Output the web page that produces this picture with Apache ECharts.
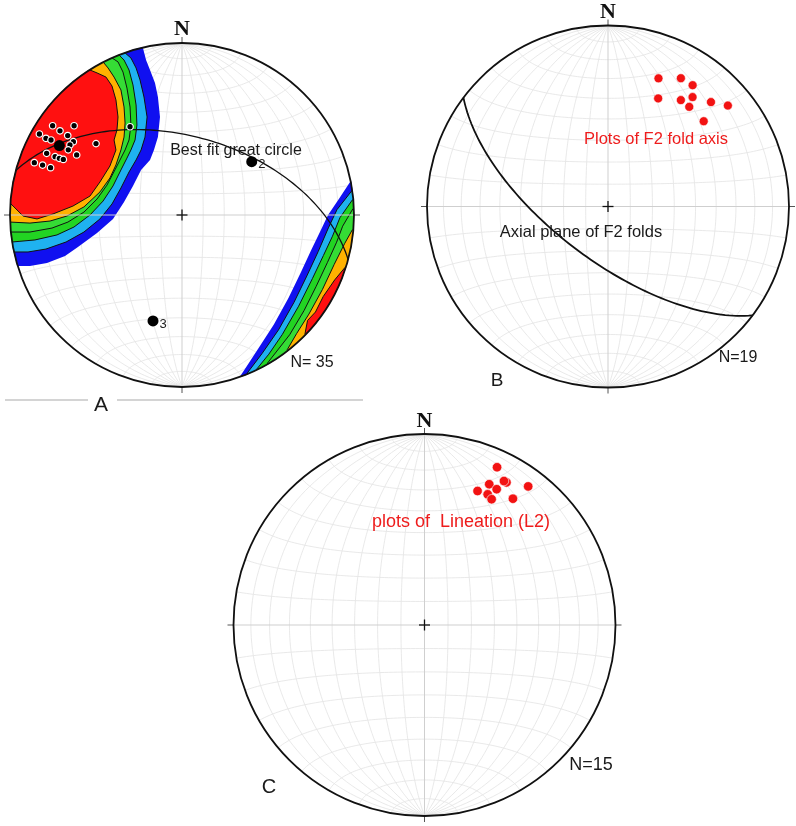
<!DOCTYPE html>
<html>
<head>
<meta charset="utf-8">
<script src="https://cdn.jsdelivr.net/npm/echarts@6/dist/echarts.min.js"></script>
<style>
  html, body { margin: 0; padding: 0; background: #fff; }
  #chart { width: 796px; height: 826px; }
</style>
</head>
<body>
<div id="chart"></div>
<script>
// ---- data: [trend, plunge] in degrees, lower hemisphere, equal-area net ----
// A: poles (N = 35), eigenvectors 1..3, best fit great circle
const polesA = [
  [304.6, 9.5], [309.6, 19.7], [299.6, 5.2], [304.6, 14.9], [304.8, 20.2],
  [299.4, 10.1], [299.8, 13.3], [304.0, 24.8], [302.0, 24.2], [309.7, 35.3],
  [299.8, 24.8], [299.7, 30.2], [294.5, 14.6], [294.7, 19.9], [294.8, 22.5],
  [295.1, 24.8], [289.5, 9.8], [289.7, 15.0], [289.8, 19.9], [329.5, 40.2]
]
const eigenA = [[299.5, 19.2], [52.6, 47.7], [195.3, 36.3]]
const eigenLabelsA = ['', '2', '3']
const bestFitA = [15, 52]        // dip direction, dip
// B: F2 fold axes (N = 19) and axial plane
const foldAxesB = [
  [21.5, 24.9], [29.6, 19.6], [34.9, 19.4], [24.9, 34.5], [34.4, 29.5],
  [37.7, 24.6], [39.2, 29.7], [44.6, 20.1], [49.9, 14.5], [48.3, 29.9]
]
const axialPlaneB = [217, 66]
// C: L2 lineations (N = 15)
const lineationC = [
  [24.7, 10.0], [24.7, 20.0], [29.9, 15.0], [28.9, 15.0], [28.0, 20.6],
  [21.6, 25.5], [25.8, 25.0], [28.1, 26.3], [35.0, 20.4], [36.8, 10.3]
]
const counts = ['N= 35', 'N=19', 'N=15']
const netAngles = [10, 20, 30, 40, 50, 60, 70, 80]

// contour outlines of A in net coordinates (x east, y north, primitive = 1)
const contourColors = ['#1010f0', '#1fb2f0', '#22d422', '#35dc35', '#ffb200', '#ff1010']
const contourNW = [
  [[-0.215,1.029],[-0.227,0.971],[-0.209,0.901],[-0.186,0.843],[-0.157,0.767],[-0.140,0.686],[-0.128,0.570],[-0.140,0.453],[-0.163,0.378],[-0.186,0.320],[-0.238,0.262],[-0.285,0.169],[-0.337,0.076],[-0.401,-0.023],[-0.494,-0.105],[-0.605,-0.186],[-0.680,-0.238],[-0.785,-0.279],[-0.884,-0.297],[-0.953,-0.297],[-1.012,-0.308]],
  [[-0.320,1.006],[-0.331,0.942],[-0.297,0.913],[-0.267,0.855],[-0.244,0.785],[-0.221,0.686],[-0.203,0.570],[-0.215,0.453],[-0.238,0.378],[-0.267,0.320],[-0.308,0.250],[-0.355,0.157],[-0.407,0.064],[-0.477,-0.023],[-0.570,-0.099],[-0.674,-0.157],[-0.791,-0.198],[-0.895,-0.215],[-0.977,-0.215],[-1.035,-0.227]],
  [[-0.372,0.983],[-0.366,0.930],[-0.337,0.901],[-0.308,0.843],[-0.285,0.756],[-0.267,0.640],[-0.262,0.523],[-0.273,0.436],[-0.297,0.378],[-0.320,0.331],[-0.355,0.262],[-0.401,0.169],[-0.459,0.081],[-0.535,0.000],[-0.628,-0.070],[-0.727,-0.116],[-0.855,-0.145],[-0.988,-0.157],[-1.047,-0.163]],
  [[-0.419,0.959],[-0.407,0.913],[-0.372,0.890],[-0.343,0.831],[-0.320,0.738],[-0.302,0.628],[-0.297,0.523],[-0.308,0.436],[-0.331,0.378],[-0.355,0.331],[-0.390,0.262],[-0.436,0.174],[-0.494,0.093],[-0.570,0.017],[-0.663,-0.041],[-0.756,-0.076],[-0.884,-0.099],[-0.994,-0.099],[-1.052,-0.105]],
  [[-0.471,0.930],[-0.459,0.890],[-0.430,0.855],[-0.395,0.802],[-0.355,0.727],[-0.337,0.628],[-0.331,0.535],[-0.337,0.453],[-0.355,0.378],[-0.384,0.291],[-0.419,0.215],[-0.477,0.134],[-0.570,0.047],[-0.669,-0.006],[-0.767,-0.035],[-0.884,-0.047],[-1.000,-0.041],[-1.058,-0.041]],
  [[-0.552,0.890],[-0.535,0.843],[-0.494,0.826],[-0.442,0.802],[-0.407,0.750],[-0.384,0.669],[-0.372,0.570],[-0.378,0.494],[-0.395,0.436],[-0.384,0.378],[-0.419,0.285],[-0.477,0.192],[-0.535,0.110],[-0.634,0.052],[-0.750,0.006],[-0.843,-0.023],[-0.924,-0.006],[-0.959,0.029],[-0.994,0.064],[-1.052,0.070]]
]
const contourSE = [
  [[1.035,0.220],[0.976,0.190],[0.914,0.096],[0.849,0.000],[0.802,-0.099],[0.752,-0.202],[0.690,-0.336],[0.619,-0.483],[0.534,-0.637],[0.455,-0.758],[0.385,-0.866],[0.340,-0.934],[0.345,-1.000]],
  [[1.045,0.166],[0.985,0.138],[0.901,0.031],[0.851,-0.075],[0.792,-0.212],[0.726,-0.354],[0.651,-0.508],[0.561,-0.668],[0.465,-0.806],[0.380,-0.918],[0.396,-0.981]],
  [[1.052,0.111],[0.990,0.087],[0.918,-0.016],[0.875,-0.123],[0.822,-0.236],[0.758,-0.370],[0.678,-0.530],[0.583,-0.695],[0.505,-0.809],[0.436,-0.894],[0.447,-0.959]],
  [[1.057,0.055],[0.993,0.035],[0.934,-0.065],[0.899,-0.158],[0.846,-0.275],[0.780,-0.415],[0.710,-0.555],[0.626,-0.696],[0.497,-0.861],[0.513,-0.925]],
  [[1.056,-0.074],[0.990,-0.087],[0.945,-0.167],[0.885,-0.287],[0.816,-0.434],[0.738,-0.576],[0.666,-0.690],[0.612,-0.783],[0.637,-0.845]],
  [[1.012,-0.309],[0.946,-0.307],[0.888,-0.377],[0.821,-0.474],[0.776,-0.564],[0.730,-0.613],[0.715,-0.691],[0.748,-0.748]]
]

// ---- projection helpers ----
const D2R = Math.PI / 180
function dirVec(trend, plunge) {
  const t = trend * D2R, p = plunge * D2R
  return [Math.cos(p) * Math.cos(t), Math.cos(p) * Math.sin(t), Math.sin(p)]  // N, E, Down
}
function project(v) {
  let n = v[0], e = v[1], d = v[2]
  if (d < 0) { n = -n; e = -e; d = -d }
  const k = 1 / Math.sqrt(1 + d)
  return [e * k, n * k]
}
function pointXY(tp) { return project(dirVec(tp[0], tp[1])) }
function planeCurve(dipDir, dip) {
  const s = dirVec(dipDir - 90, 0), d = dirVec(dipDir, dip)
  const pts = []
  for (let a = 0; a <= 180; a += 2) {
    const c = Math.cos(a * D2R), sn = Math.sin(a * D2R)
    pts.push(project([c * s[0] + sn * d[0], c * s[1] + sn * d[1], c * s[2] + sn * d[2]]))
  }
  return pts
}
function netCurves() {
  const out = []
  netAngles.forEach(function (a) {
    [a, 180 - a].forEach(function (b) {
      const cb = Math.cos(b * D2R), sb = Math.sin(b * D2R)
      const gc = [], sc = []
      for (let k = 0; k <= 180; k += 2) {
        const u = k * D2R
        gc.push(project([Math.cos(u), Math.sin(u) * cb, Math.sin(u) * sb]))
        sc.push(project([cb, sb * Math.cos(u), sb * Math.sin(u)]))
      }
      out.push(gc, sc)
    })
  })
  return out
}

// ---- layout of the three nets (pixels) ----
const nets = [
  { cx: 182, cy: 215, r: 172 },
  { cx: 608, cy: 206.5, r: 181 },
  { cx: 424.5, cy: 625, r: 191 }
]
const OUT_NW = [[-1.6, -0.35], [-1.6, 1.6], [-0.2, 1.6]]
const OUT_SE = [[0.5, -1.6], [1.6, -1.6], [1.6, 0.3]]

function curveSeries(gi, curves, style, z, clip) {
  return {
    type: 'custom', xAxisIndex: gi, yAxisIndex: gi, z: z, clip: clip, silent: true,
    data: curves.map(function (c, i) { return [c[0][0], c[0][1], i] }),
    encode: { x: 0, y: 1 },
    renderItem: function (params, api) {
      const c = curves[params.dataIndex]
      return {
        type: 'polyline',
        shape: { points: c.map(function (p) { return api.coord(p) }) },
        style: Object.assign({ fill: 'none' }, style)
      }
    }
  }
}

function frameSeries(gi) {
  return {
    type: 'custom', xAxisIndex: gi, yAxisIndex: gi, z: 5, clip: false, silent: true,
    data: [[0, 0]],
    encode: { x: 0, y: 1 },
    renderItem: function (params, api) {
      const c = api.coord([0, 0]), R = api.size([1, 1])[0]
      const x = c[0], y = c[1], t = 6, h = 5.5
      function L(x1, y1, x2, y2, stroke, w) {
        return { type: 'line', shape: { x1: x1, y1: y1, x2: x2, y2: y2 }, style: { stroke: stroke, lineWidth: w } }
      }
      return {
        type: 'group',
        children: [
          L(x - R, y, x + R, y, '#cfcfcf', 1),
          L(x, y - R, x, y + R, '#cfcfcf', 1),
          L(x - R - t, y, x - R, y, '#555', 1),
          L(x + R, y, x + R + t, y, '#555', 1),
          L(x, y - R - t, x, y - R, '#555', 1),
          L(x, y + R, x, y + R + t, '#555', 1),
          L(x - h, y, x + h, y, '#111', 1.3),
          L(x, y - h, x, y + h, '#111', 1.3),
          { type: 'circle', shape: { cx: x, cy: y, r: R }, style: { fill: 'none', stroke: '#111', lineWidth: 1.8 } }
        ]
      }
    }
  }
}

// ---- contours of A ----
const contourPolys = []
contourColors.forEach(function (col, i) {
  contourPolys.push({ level: i, pts: contourNW[i].concat(OUT_NW) })
  contourPolys.push({ level: i, pts: contourSE[i].concat(OUT_SE) })
})
const contourSeries = {
  type: 'custom', xAxisIndex: 0, yAxisIndex: 0, z: 2, clip: true, silent: true,
  data: contourPolys.map(function (c, i) { return [c.pts[0][0], c.pts[0][1], i] }),
  encode: { x: 0, y: 1 },
  renderItem: function (params, api) {
    const c = contourPolys[params.dataIndex]
    return {
      type: 'polygon',
      shape: { points: c.pts.map(function (p) { return api.coord(p) }) },
      style: {
        fill: contourColors[c.level],
        stroke: c.level === 0 ? 'none' : '#111',
        lineWidth: 1
      }
    }
  }
}
const maskSeries = {
  type: 'custom', xAxisIndex: 0, yAxisIndex: 0, z: 3, clip: true, silent: true,
  data: [[0, 0]],
  encode: { x: 0, y: 1 },
  renderItem: function (params, api) {
    const c = api.coord([0, 0]), R = api.size([1, 1])[0]
    return { type: 'ring', shape: { cx: c[0], cy: c[1], r: R * 1.6, r0: R + 0.5 }, style: { fill: '#fff' } }
  }
}

const netLines = netCurves()
const series = []
nets.forEach(function (n, i) {
  series.push(curveSeries(i, netLines, { stroke: '#e3e3e3', lineWidth: 0.8 }, 1, true))
  series.push(frameSeries(i))
})
series.push(contourSeries, maskSeries)
series.push(curveSeries(0, [planeCurve(bestFitA[0], bestFitA[1])], { stroke: '#111', lineWidth: 1.3 }, 6, true))
series.push(curveSeries(1, [planeCurve(axialPlaneB[0], axialPlaneB[1])], { stroke: '#111', lineWidth: 1.8 }, 6, true))

series.push({
  type: 'scatter', xAxisIndex: 0, yAxisIndex: 0, z: 7, symbolSize: 6.5,
  itemStyle: { color: '#000', borderColor: '#fff', borderWidth: 1.2, opacity: 1 },
  data: polesA.map(pointXY)
})
series.push({
  type: 'scatter', xAxisIndex: 0, yAxisIndex: 0, z: 8, symbolSize: 11,
  itemStyle: { color: '#000', opacity: 1 },
  label: {
    show: true, position: 'right', distance: 1, offset: [0, 3],
    formatter: '{b}', fontSize: 13, color: '#222', fontFamily: 'Liberation Sans'
  },
  data: eigenA.map(function (p, i) { return { name: eigenLabelsA[i], value: pointXY(p) } })
})
series.push({
  type: 'scatter', xAxisIndex: 1, yAxisIndex: 1, z: 7, symbolSize: 9,
  itemStyle: { color: '#f21212', borderColor: '#fff', borderWidth: 0.6, opacity: 1 },
  data: foldAxesB.map(pointXY)
})
series.push({
  type: 'scatter', xAxisIndex: 2, yAxisIndex: 2, z: 7, symbolSize: 9.5,
  itemStyle: { color: '#f21212', borderColor: '#fff', borderWidth: 0.6, opacity: 1 },
  data: lineationC.map(pointXY)
})

// ---- text ----
function txt(s, x, y, font, color, align) {
  return {
    type: 'text', x: x, y: y, z: 100, silent: true,
    style: { text: s, font: font, fill: color || '#1a1a1a', textAlign: align || 'center', textVerticalAlign: 'middle' }
  }
}
const sans = '"Liberation Sans", Arial, sans-serif'
const graphic = [
  { type: 'line', z: 100, shape: { x1: 5, y1: 400, x2: 88, y2: 400 }, style: { stroke: '#d4d4d4', lineWidth: 2 } },
  { type: 'line', z: 100, shape: { x1: 117, y1: 400, x2: 363, y2: 400 }, style: { stroke: '#d4d4d4', lineWidth: 2 } },
  txt('N', nets[0].cx, nets[0].cy - nets[0].r - 14, 'bold 22px "Liberation Serif", serif', '#111'),
  txt('N', nets[1].cx, nets[1].cy - nets[1].r - 13.5, 'bold 22px "Liberation Serif", serif', '#111'),
  txt('N', nets[2].cx, nets[2].cy - nets[2].r - 12.5, 'bold 22px "Liberation Serif", serif', '#111'),
  txt('Best fit great circle', 236, 151, '16px ' + sans),
  txt(counts[0], 312, 363, '16px ' + sans),
  txt('A', 101, 405, '21px ' + sans),
  txt('Plots of F2 fold axis', 656, 139, '16.5px ' + sans, '#ee1c1c'),
  txt('Axial plane of F2 folds', 581, 232, '16.5px ' + sans),
  txt(counts[1], 738, 358, '16px ' + sans),
  txt('B', 497, 381, '19px ' + sans),
  txt('plots of  Lineation (L2)', 461, 522, '18px ' + sans, '#ee1c1c'),
  txt(counts[2], 591, 765, '18px ' + sans),
  txt('C', 269, 787, '20px ' + sans)
]

const chart = echarts.init(document.getElementById('chart'))
chart.setOption({
  animation: false,
  backgroundColor: '#fff',
  grid: nets.map(function (n) { return { left: n.cx - n.r, top: n.cy - n.r, width: 2 * n.r, height: 2 * n.r, show: false } }),
  xAxis: nets.map(function (n, i) { return { type: 'value', gridIndex: i, min: -1, max: 1, show: false } }),
  yAxis: nets.map(function (n, i) { return { type: 'value', gridIndex: i, min: -1, max: 1, show: false } }),
  graphic: graphic,
  series: series
})
</script>
</body>
</html>
